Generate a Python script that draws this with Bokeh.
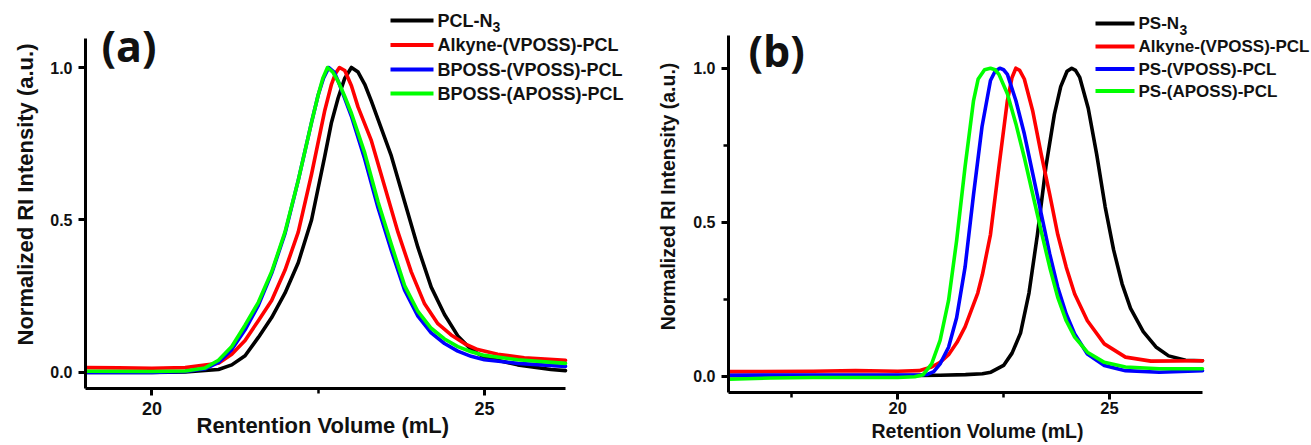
from bokeh.plotting import figure
from bokeh.layouts import row
from bokeh.models import (Label, Arrow, Title, FixedTicker, PrintfTickFormatter, Range1d)
from bokeh.embed import file_html
from bokeh.resources import INLINE

# ---------------- Panel (a) data ----------------
a_black_x = [19.0, 20.0, 20.5, 21.0, 21.2, 21.4, 21.6, 21.8, 22.0, 22.2, 22.4, 22.6, 22.7, 22.8, 22.9, 23.0,
             23.1, 23.2, 23.3, 23.4, 23.6, 23.8, 24.0, 24.2, 24.4, 24.6, 24.8, 25.0, 25.5, 26.0, 26.22]
a_black_y = [0.0, 0.0, 0.002, 0.01, 0.025, 0.055, 0.115, 0.18, 0.26, 0.36, 0.5, 0.71, 0.82, 0.9, 0.965, 1.0,
             0.985, 0.945, 0.89, 0.83, 0.71, 0.56, 0.41, 0.28, 0.19, 0.12, 0.075, 0.05, 0.025, 0.01, 0.006]

a_red_x = [19.0, 19.5, 20.0, 20.5, 21.0, 21.2, 21.4, 21.6, 21.8, 22.0, 22.2, 22.4, 22.6, 22.7, 22.76, 22.82,
           22.9, 23.0, 23.1, 23.3, 23.5, 23.7, 23.9, 24.1, 24.3, 24.5, 24.7, 24.9, 25.2, 25.6, 26.22]
a_red_y = [0.016, 0.015, 0.014, 0.016, 0.03, 0.06, 0.105, 0.17, 0.236, 0.335, 0.46, 0.65, 0.86, 0.945, 0.98, 1.0,
           0.99, 0.94, 0.87, 0.76, 0.61, 0.46, 0.33, 0.225, 0.16, 0.123, 0.095, 0.075, 0.06, 0.048, 0.04]

a_blue_x = [19.0, 20.0, 20.5, 20.8, 21.0, 21.2, 21.4, 21.6, 21.8, 22.0, 22.2, 22.4, 22.5, 22.58, 22.66, 22.74,
            22.82, 23.0, 23.2, 23.4, 23.6, 23.8, 24.0, 24.2, 24.4, 24.6, 24.8, 25.0, 25.5, 26.22]
a_blue_y = [0.0, 0.0, 0.003, 0.012, 0.033, 0.075, 0.14, 0.22, 0.325, 0.455, 0.63, 0.82, 0.91, 0.965, 1.0, 0.985,
            0.945, 0.84, 0.7, 0.54, 0.4, 0.27, 0.185, 0.13, 0.095, 0.07, 0.053, 0.042, 0.03, 0.02]

a_green_x = [19.0, 20.0, 20.5, 20.8, 21.0, 21.2, 21.4, 21.6, 21.8, 22.0, 22.2, 22.4, 22.5, 22.57, 22.64, 22.72,
             22.8, 22.9, 23.0, 23.2, 23.4, 23.6, 23.8, 24.0, 24.2, 24.4, 24.6, 24.8, 25.0, 25.5, 26.22]
a_green_y = [0.004, 0.003, 0.005, 0.015, 0.04, 0.085, 0.155, 0.23, 0.33, 0.46, 0.63, 0.82, 0.91, 0.965, 1.0, 0.985,
             0.955, 0.905, 0.85, 0.72, 0.56, 0.42, 0.285, 0.2, 0.145, 0.11, 0.085, 0.068, 0.056, 0.042, 0.03]

a_labels = ["PCL-N", "Alkyne-(VPOSS)-PCL", "BPOSS-(VPOSS)-PCL", "BPOSS-(APOSS)-PCL"]

# ---------------- Panel (b) data ----------------
b_black_x = [16.0, 18.0, 20.0, 21.0, 21.6, 22.0, 22.2, 22.5, 22.7, 22.9, 23.1, 23.3, 23.5, 23.7, 23.85,
             24.0, 24.11, 24.2, 24.3, 24.5, 24.7, 24.9, 25.1, 25.3, 25.5, 25.8, 26.1, 26.4, 26.8, 27.2]
b_black_y = [0.002, 0.002, 0.002, 0.003, 0.005, 0.008, 0.013, 0.035, 0.075, 0.14, 0.27, 0.46, 0.68, 0.85, 0.94,
             0.99, 1.0, 0.993, 0.97, 0.87, 0.72, 0.55, 0.41, 0.30, 0.22, 0.145, 0.095, 0.066, 0.052, 0.05]

b_red_x = [16.0, 18.0, 19.0, 20.0, 20.5, 20.8, 21.0, 21.2, 21.4, 21.59, 21.89, 22.0, 22.19, 22.39, 22.59,
           22.7, 22.79, 22.88, 22.99, 23.19, 23.39, 23.59, 23.78, 23.98, 24.18, 24.48, 24.88, 25.38, 25.98, 27.2]
b_red_y = [0.015, 0.016, 0.018, 0.016, 0.018, 0.03, 0.045, 0.07, 0.11, 0.16, 0.27, 0.33, 0.46, 0.68, 0.895,
           0.97, 1.0, 0.993, 0.965, 0.86, 0.72, 0.59, 0.46, 0.354, 0.267, 0.18, 0.105, 0.062, 0.049, 0.05]

b_blue_x = [16.0, 18.0, 20.0, 20.5, 20.7, 20.85, 21.0, 21.2, 21.39, 21.59, 21.79, 21.99, 22.19, 22.3, 22.41,
            22.5, 22.59, 22.79, 22.99, 23.19, 23.39, 23.59, 23.78, 23.98, 24.18, 24.48, 24.88, 25.38, 26.18, 27.2]
b_blue_y = [0.003, 0.004, 0.004, 0.004, 0.006, 0.015, 0.04, 0.094, 0.19, 0.354, 0.59, 0.81, 0.96, 0.99, 1.0,
            0.995, 0.98, 0.895, 0.787, 0.657, 0.527, 0.397, 0.289, 0.202, 0.137, 0.072, 0.035, 0.018, 0.013, 0.018]

b_green_x = [16.0, 17.0, 18.0, 19.0, 20.0, 20.4, 20.6, 20.8, 21.0, 21.2, 21.39, 21.59, 21.79, 21.9, 22.05,
             22.19, 22.3, 22.39, 22.59, 22.79, 22.99, 23.19, 23.39, 23.59, 23.78, 23.98, 24.18, 24.48, 24.88,
             25.38, 26.18, 27.2]
b_green_y = [-0.01, -0.006, -0.004, -0.004, -0.004, -0.002, 0.005, 0.04, 0.116, 0.246, 0.44, 0.68, 0.895, 0.965, 0.995,
             1.0, 0.995, 0.98, 0.917, 0.82, 0.71, 0.59, 0.47, 0.354, 0.256, 0.18, 0.127, 0.078, 0.045,
             0.03, 0.024, 0.024]

b_labels = ["PS-N", "Alkyne-(VPOSS)-PCL", "PS-(VPOSS)-PCL", "PS-(APOSS)-PCL"]
subscript = "3"

colors = ["#000000", "#ff0000", "#0000ff", "#00ff00"]
x_ticks = [20, 25]
y_ticks = [0.0, 0.5, 1.0]
y_title = "Normalized RI Intensity (a.u.)"

FONT = "Liberation Sans"
TXT = "#111111"


def build(xs, ys, labels, xr, yr, xbounds, ybounds, xminor, yminor, fig_x0, fw, fh, bl, bb,
          xtitle, tick_fs_x, tick_fs_y, title_fs, x_std,
          xt_offset, xt_standoff, yt_offset, yt_standoff,
          leg_fs, leg_px_line, leg_px_text, leg_rows, sub_dx, tag, tag_px):
    p = figure(output_backend="svg", toolbar_location=None,
               x_range=Range1d(*xr), y_range=Range1d(*yr),
               frame_width=fw, frame_height=fh,
               min_border_left=bl, min_border_right=0, min_border_top=0, min_border_bottom=bb)
    p.xgrid.visible = False
    p.ygrid.visible = False
    p.outline_line_color = None
    for ax in (p.xaxis[0], p.yaxis[0]):
        ax.axis_line_width = 3
        ax.axis_line_color = "black"
        ax.major_tick_line_width = 3
        ax.minor_tick_line_width = 2.5
        ax.major_tick_out = 7
        ax.major_tick_in = 0
        ax.minor_tick_out = 5
        ax.minor_tick_in = 0
        ax.major_label_text_font = FONT
        ax.major_label_text_font_style = "bold"
        ax.major_label_text_color = TXT
    p.xaxis[0].bounds = xbounds
    p.yaxis[0].bounds = ybounds
    p.xaxis[0].ticker = FixedTicker(ticks=x_ticks, minor_ticks=xminor)
    p.yaxis[0].ticker = FixedTicker(ticks=y_ticks, minor_ticks=yminor)
    p.xaxis[0].formatter = PrintfTickFormatter(format="%d")
    p.yaxis[0].formatter = PrintfTickFormatter(format="%.1f")
    p.xaxis[0].major_label_text_font_size = tick_fs_x
    p.yaxis[0].major_label_text_font_size = tick_fs_y
    p.xaxis[0].major_label_standoff = x_std
    p.yaxis[0].major_label_standoff = 6

    # axis titles placed under / beside the bounded axis lines
    p.add_layout(Title(text=xtitle, align="left", offset=xt_offset, standoff=xt_standoff,
                       text_font=FONT, text_font_style="bold", text_font_size=title_fs,
                       text_color=TXT), "below")
    p.add_layout(Title(text=y_title, align="center", offset=yt_offset, standoff=yt_standoff,
                       text_font=FONT, text_font_style="bold", text_font_size=title_fs,
                       text_color=TXT), "left")

    for x, y, c in zip(xs, ys, colors):
        p.line(x, y, line_color=c, line_width=3.6, line_join="round", line_cap="round")

    # page-pixel -> data helpers for the legend / panel tag placed in the open frame area
    x0, x1 = xr
    y0, y1 = yr
    def dx(px):
        return x0 + (px - fig_x0 - bl) * (x1 - x0) / fw
    def dy(py):
        return y1 - py * (y1 - y0) / fh

    for i, (lab, c, rpy) in enumerate(zip(labels, colors, leg_rows)):
        p.add_layout(Arrow(end=None, x_start=dx(leg_px_line[0]), x_end=dx(leg_px_line[1]),
                           y_start=dy(rpy), y_end=dy(rpy), line_color=c, line_width=4))
        p.add_layout(Label(x=dx(leg_px_text), y=dy(rpy), text=lab, text_font=FONT,
                           text_font_style="bold", text_font_size=leg_fs, text_color=TXT,
                           text_baseline="middle", text_align="left"))
        if i == 0:
            p.add_layout(Label(x=dx(leg_px_text + sub_dx), y=dy(rpy + 6), text=subscript,
                               text_font=FONT, text_font_style="bold", text_font_size="14px",
                               text_color=TXT, text_baseline="middle", text_align="left"))
    p.add_layout(Label(x=dx(tag_px[0]), y=dy(tag_px[1]), text=tag, text_font="Open Sans",
                       text_font_style="bold", text_font_size="43px", text_color=TXT,
                       text_baseline="middle", text_align="left"))
    return p


# panel (a): frame spans page x 83..633, y 0..388; axis lines bounded to the data window
pa = build([a_black_x, a_red_x, a_blue_x, a_green_x], [a_black_y, a_red_y, a_blue_y, a_green_y],
           a_labels, (19.0, 27.273), (-0.0525, 1.2197), (19.0, 26.22), (-0.0525, 1.095),
           [22.5], [], 0, 550, 388, 83, 57, "Rentention Volume (mL)",
           "18px", "16px", "22px", 6, 111, -13, -19, 20,
           "18px", (388, 431), 435, [20, 44.5, 69, 93], 55, "(a)", (99, 45))

# panel (b): frame spans page x 726..1311, y 0..392
pb = build([b_black_x, b_red_x, b_blue_x, b_green_x], [b_black_y, b_red_y, b_blue_y, b_green_y],
           b_labels, (16.0, 29.823), (-0.0529, 1.2198), (16.0, 27.2), (-0.0529, 1.106),
           [17.5, 22.5], [0.25, 0.75], 633, 585, 392, 93, 53, "Retention Volume (mL)",
           "16.5px", "16px", "19.5px", 2, 143, 2, -4, 23,
           "17px", (1093, 1132), 1136, [23, 46, 68.5, 90.5], 41, "(b)", (746, 50))

layout = row(pa, pb)
open("out.html", "w").write(file_html(layout, INLINE))
